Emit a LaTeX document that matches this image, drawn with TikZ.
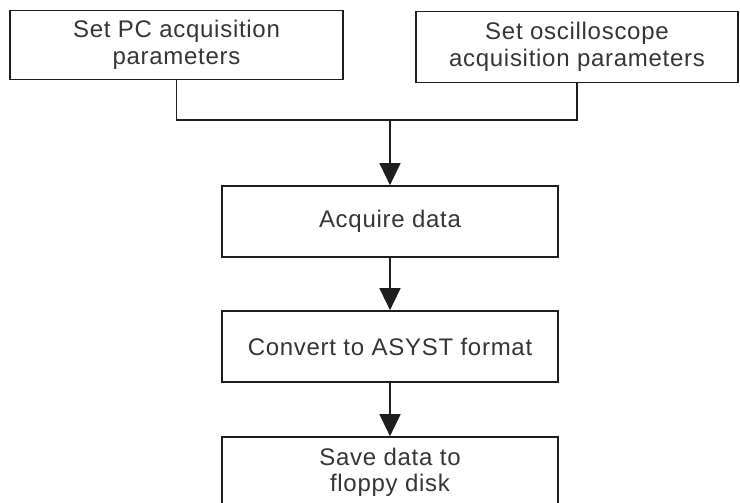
\documentclass[tikz,border=0pt]{standalone}
\usepackage{fontspec}
\setmainfont{Liberation Sans}[LetterSpace=3]
\usetikzlibrary{arrows.meta}
\definecolor{ink}{HTML}{1E1E1E}
\begin{document}
\begin{tikzpicture}[x=1pt,y=-1pt,
  stepbox/.style={draw=ink, line width=1.7pt, align=center, inner sep=0pt,
    font=\fontsize{24}{26.5}\selectfont, text=ink!90},
  link/.style={draw=ink, line width=1.5pt},
  flow/.style={link, -{Triangle[length=22pt,width=21pt]}}]
  \useasboundingbox (0,0) rectangle (740,503);
  \clip (0,0) rectangle (740,503);
  \fill[white] (0,0) rectangle (740,503);

  % parameter setup boxes
  \node[stepbox, minimum width=333pt, minimum height=69pt] (pc) at (176.5,45)
    {Set PC acquisition\\parameters};
  \node[stepbox, minimum width=322pt, minimum height=71pt] (osc) at (577,47)
    {Set oscilloscope\\acquisition parameters};

  % processing chain
  \node[stepbox, minimum width=336pt, minimum height=71pt] (acq) at (390,221.5)
    {Acquire data};
  \node[stepbox, minimum width=336pt, minimum height=71pt] (conv) at (390,346.5)
    {Convert to ASYST format};
  \node[stepbox, minimum width=336pt, minimum height=71pt] (save) at (390,472.5)
    {Save data to\\floppy disk};

  % connectors
  \coordinate (join) at (390,120);
  \draw[link] (pc.south) |- (join) -| (osc.south);
  \draw[flow] (join) -- (acq.north);
  \draw[flow] (acq.south) -- (conv.north);
  \draw[flow] (conv.south) -- (save.north);
\end{tikzpicture}
\end{document}
